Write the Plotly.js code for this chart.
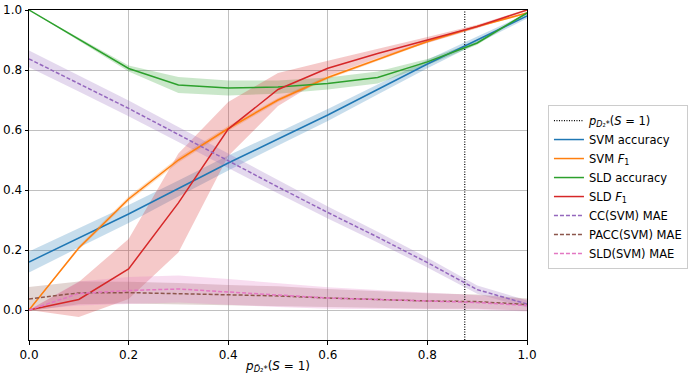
<!DOCTYPE html>
<html>
<head>
<meta charset="utf-8">
<script src="https://cdn.plot.ly/plotly-3.0.1.min.js"></script>
<style>
  html, body { margin: 0; padding: 0; background: #fff; }
  #chart { width: 697px; height: 379px; }
</style>
</head>
<body>
<div id="chart"></div>
<script>
// training prevalence p(S=1) and test prevalences
const trainPrev = 0.875;
const prevs = [0.0, 0.1, 0.2, 0.3, 0.4, 0.5, 0.6, 0.7, 0.8, 0.9, 1.0];

// classifier scores (mean) and their std bands
const svmAcc    = [0.16, 0.24, 0.32, 0.405, 0.49, 0.57, 0.65, 0.735, 0.82, 0.90, 0.98];
const svmAccStd = [0.035, 0.032, 0.03, 0.027, 0.025, 0.022, 0.02, 0.017, 0.014, 0.012, 0.008];
const svmF1     = [0.0, 0.207, 0.37, 0.50, 0.605, 0.70, 0.775, 0.835, 0.895, 0.945, 0.99];
const svmF1Std  = [0.0, 0.006, 0.008, 0.008, 0.008, 0.007, 0.006, 0.005, 0.004, 0.004, 0.003];
const sldAcc    = [1.0, 0.903, 0.805, 0.75, 0.74, 0.743, 0.755, 0.775, 0.827, 0.89, 0.99];
const sldAccStd = [0.0, 0.005, 0.01, 0.027, 0.025, 0.022, 0.02, 0.02, 0.01, 0.006, 0.003];
const sldF1     = [0.0, 0.035, 0.137, 0.357, 0.603, 0.735, 0.806, 0.855, 0.90, 0.945, 1.0];
const sldF1Std  = [0.0, 0.058, 0.1, 0.165, 0.09, 0.055, 0.025, 0.015, 0.01, 0.006, 0.003];

// quantifier errors (mean) and their std bands
const ccMae      = [0.837, 0.755, 0.672, 0.585, 0.497, 0.41, 0.325, 0.243, 0.158, 0.068, 0.02];
const ccMaeStd   = [0.028, 0.027, 0.026, 0.025, 0.024, 0.022, 0.02, 0.018, 0.016, 0.014, 0.012];
const paccMae    = [0.037, 0.057, 0.058, 0.055, 0.05, 0.047, 0.04, 0.035, 0.03, 0.028, 0.018];
const paccMaeStd = [0.04, 0.038, 0.036, 0.035, 0.033, 0.032, 0.03, 0.028, 0.026, 0.024, 0.02];
const sldMae     = [0.0, 0.055, 0.065, 0.07, 0.06, 0.05, 0.04, 0.035, 0.03, 0.025, 0.015];
const sldMaeStd  = [0.0, 0.04, 0.045, 0.045, 0.043, 0.04, 0.036, 0.032, 0.028, 0.024, 0.02];

const series = [
  {name: "SVM accuracy", y: svmAcc, sd: svmAccStd, rgb: "31,119,180", dash: "solid"},
  {name: "SVM <i>F</i><sub>1</sub>", y: svmF1, sd: svmF1Std, rgb: "255,127,14", dash: "solid"},
  {name: "SLD accuracy", y: sldAcc, sd: sldAccStd, rgb: "44,160,44", dash: "solid"},
  {name: "SLD <i>F</i><sub>1</sub>", y: sldF1, sd: sldF1Std, rgb: "214,39,40", dash: "solid"},
  {name: "CC(SVM) MAE", y: ccMae, sd: ccMaeStd, rgb: "148,103,189", dash: "4px,2px"},
  {name: "PACC(SVM) MAE", y: paccMae, sd: paccMaeStd, rgb: "140,86,75", dash: "4px,2px"},
  {name: "SLD(SVM) MAE", y: sldMae, sd: sldMaeStd, rgb: "227,119,194", dash: "4px,2px"}
];

const yRange = [-0.1, 1.0];
const traces = [];

// std bands first so lines sit on top
series.forEach(s => {
  const upper = s.y.map((v, i) => v + s.sd[i]);
  const lower = s.y.map((v, i) => v - s.sd[i]);
  traces.push({
    x: prevs.concat(prevs.slice().reverse()),
    y: upper.concat(lower.reverse()),
    fill: "toself",
    fillcolor: "rgba(" + s.rgb + ",0.25)",
    line: {width: 0},
    mode: "lines",
    hoverinfo: "skip",
    showlegend: false
  });
});

traces.push({
  x: [trainPrev, trainPrev],
  y: yRange,
  mode: "lines",
  name: "<i>p</i><sub><i>D</i>₂*</sub>(<i>S</i> = 1)",
  line: {color: "black", width: 1.2, dash: "1px,1.5px"}
});

series.forEach(s => {
  traces.push({
    x: prevs,
    y: s.y,
    mode: "lines",
    name: s.name,
    line: {color: "rgb(" + s.rgb + ")", width: 1.5, dash: s.dash}
  });
});

const axisCommon = {
  showline: true,
  linecolor: "black",
  linewidth: 1,
  mirror: true,
  ticks: "outside",
  ticklen: 3.5,
  tickcolor: "black",
  showgrid: true,
  gridcolor: "#b0b0b0",
  gridwidth: 0.8,
  zeroline: false,
  tickfont: {size: 12, color: "black"}
};

const layout = {
  width: 697,
  height: 379,
  margin: {t: 10, r: 169, b: 39, l: 29},
  paper_bgcolor: "white",
  plot_bgcolor: "white",
  font: {family: "DejaVu Sans", size: 12, color: "black"},
  xaxis: Object.assign({}, axisCommon, {
    range: [0, 1],
    dtick: 0.2,
    tickformat: ".1f",
    title: {text: "<i>p</i><sub><i>D̃</i>₂*</sub>(<i>S</i> = 1)", standoff: 0, font: {size: 12}}
  }),
  yaxis: Object.assign({}, axisCommon, {
    range: yRange,
    tickvals: [0, 0.2, 0.4, 0.6, 0.8, 1.0],
    tickformat: ".1f"
  }),
  legend: {
    x: 1.04,
    y: 0.712,
    xanchor: "left",
    yanchor: "top",
    bgcolor: "white",
    bordercolor: "#cccccc",
    borderwidth: 1,
    font: {size: 11.5},
    itemwidth: 30,
    tracegroupgap: 0
  },
  showlegend: true
};

Plotly.newPlot("chart", traces, layout, {staticPlot: true});
</script>
</body>
</html>
